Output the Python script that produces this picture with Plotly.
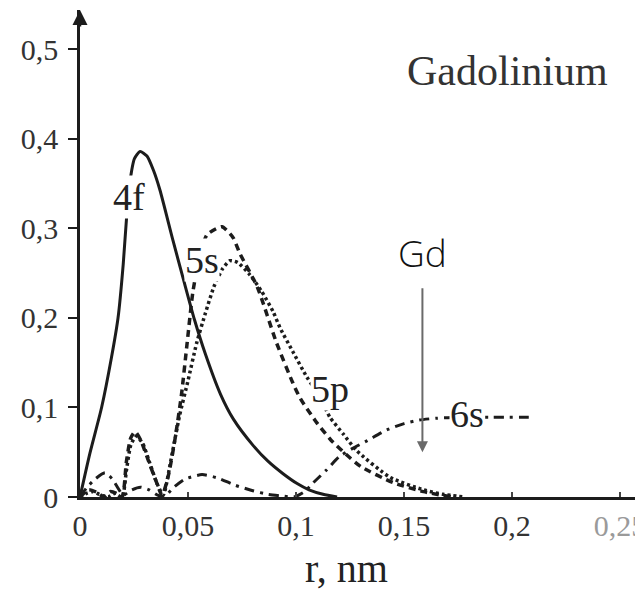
import plotly.graph_objects as go

# ---------------- data ----------------
r_4f = [0, 0.0046, 0.010, 0.0145, 0.0176, 0.0200, 0.0217, 0.0231, 0.0252, 0.0278, 0.031, 0.034,
        0.037, 0.043, 0.048, 0.053, 0.058, 0.065, 0.071, 0.080, 0.087, 0.094, 0.1005, 0.106, 0.1125, 0.119]
p_4f = [0, 0.049, 0.100, 0.155, 0.200, 0.260, 0.317, 0.352, 0.378, 0.386, 0.381, 0.365,
        0.343, 0.287, 0.242, 0.198, 0.160, 0.115, 0.087, 0.058, 0.040, 0.026, 0.015, 0.008, 0.003, 0]

r_5s = [0, 0.004, 0.008, 0.011, 0.014, 0.017, 0.0195, 0.0215, 0.0235, 0.0255, 0.028, 0.031, 0.035, 0.038,
        0.041, 0.044, 0.047, 0.0495, 0.0523, 0.0555, 0.0588, 0.0657, 0.0708, 0.074, 0.082, 0.091, 0.0986,
        0.102, 0.109, 0.116, 0.123, 0.130, 0.145, 0.159, 0.172]
p_5s = [0, 0.008, 0.005, 0.0, 0.006, 0.004, 0.0, 0.040, 0.066, 0.073, 0.064, 0.045, 0.019, 0.002,
        0.025, 0.065, 0.115, 0.170, 0.230, 0.270, 0.293, 0.302, 0.290, 0.272, 0.235, 0.172, 0.127,
        0.110, 0.085, 0.064, 0.048, 0.034, 0.016, 0.006, 0]

r_5p = [0, 0.003, 0.006, 0.009, 0.013, 0.016, 0.0195, 0.0215, 0.0235, 0.026, 0.029, 0.032, 0.0355, 0.0385,
        0.042, 0.046, 0.050, 0.054, 0.058, 0.062, 0.066, 0.0694, 0.073, 0.0787, 0.084, 0.0894, 0.0926,
        0.0986, 0.105, 0.1107, 0.1157, 0.122, 0.128, 0.1435, 0.159, 0.168, 0.178]
p_5p = [0, 0.004, 0.006, 0.003, 0.0, 0.004, 0.0, 0.030, 0.058, 0.068, 0.060, 0.040, 0.016, 0.002,
        0.040, 0.090, 0.130, 0.172, 0.205, 0.235, 0.255, 0.264, 0.262, 0.248, 0.230, 0.207, 0.189,
        0.162, 0.134, 0.113, 0.089, 0.070, 0.052, 0.022, 0.008, 0.003, 0]

r_6s = [0, 0.003, 0.007, 0.0116, 0.015, 0.0176, 0.020, 0.024, 0.028, 0.032, 0.036, 0.039, 0.043,
        0.0486, 0.0565, 0.064, 0.072, 0.080, 0.087, 0.094, 0.099, 0.104, 0.108, 0.114, 0.120, 0.126,
        0.133, 0.142, 0.150, 0.157, 0.165, 0.175, 0.190, 0.210]
p_6s = [0, 0.010, 0.020, 0.027, 0.020, 0.010, 0.002, 0.008, 0.011, 0.008, 0.002, 0.0, 0.010,
        0.020, 0.025, 0.021, 0.013, 0.007, 0.003, 0.001, 0.0, 0.006, 0.016, 0.030, 0.045, 0.054,
        0.063, 0.075, 0.082, 0.086, 0.088, 0.089, 0.089, 0.089]

x_tick_vals = [0, 0.05, 0.1, 0.15, 0.2, 0.25]
x_tick_labels = ["0", "0,05", "0,1", "0,15", "0,2", "<span style='color:#9a9a9a'>0,25</span>"]
y_tick_vals = [0, 0.1, 0.2, 0.3, 0.4, 0.5]
y_tick_labels = ["0", "0,1", "0,2", "0,3", "0,4", "0,5"]

curve_labels = ["4f", "5s", "5p", "6s"]
label_r = [0.0227, 0.0565, 0.1157, 0.179]
label_y = [0.335, 0.265, 0.121, 0.0927]

gd_r = 0.1585
gd_top, gd_tip = 0.235, 0.05

# ---------------- figure ----------------
ink = "#1c1c1c"
serif = "Liberation Serif, Times New Roman, serif"

fig = go.Figure()
fig.add_trace(go.Scatter(x=r_4f, y=p_4f, mode="lines", name="4f",
                         line=dict(color=ink, width=3, shape="spline", smoothing=0.6)))
fig.add_trace(go.Scatter(x=r_5s, y=p_5s, mode="lines", name="5s",
                         line=dict(color=ink, width=3.5, dash="7px,5px", shape="spline", smoothing=0.6)))
fig.add_trace(go.Scatter(x=r_5p, y=p_5p, mode="lines", name="5p",
                         line=dict(color=ink, width=3.5, dash="3px,3px", shape="spline", smoothing=0.6)))
fig.add_trace(go.Scatter(x=r_6s, y=p_6s, mode="lines", name="6s",
                         line=dict(color=ink, width=3, dash="10px,6px,3px,6px", shape="spline", smoothing=0.6)))

annotations = []
for t, xr, yv in zip(curve_labels, label_r, label_y):
    annotations.append(dict(x=xr, y=yv, xref="x", yref="y", text=t, showarrow=False,
                            font=dict(family=serif, size=38, color="#222"),
                            bgcolor="white", borderpad=0, xanchor="center", yanchor="middle"))

annotations.append(dict(x=0.198, y=0.476, xref="x", yref="y", text="Gadolinium", showarrow=False,
                        font=dict(family=serif, size=42, color="#333"), xanchor="center", yanchor="middle"))
annotations.append(dict(x=gd_r, y=0.273, xref="x", yref="y", text="Gd", showarrow=False,
                        font=dict(family="Open Sans, Lato, sans-serif", size=37, color="#111", weight=300),
                        xanchor="center", yanchor="middle"))
annotations.append(dict(x=gd_r, y=gd_tip, ax=gd_r, ay=gd_top, xref="x", yref="y", axref="x", ayref="y",
                        text="", showarrow=True, arrowhead=2, arrowsize=1.1, arrowwidth=2, arrowcolor="#6a6a6a"))
# y-axis arrow head
annotations.append(dict(x=0, y=0.5441, xref="x", yref="y", ax=0, ay=18, text="", showarrow=True,
                        arrowhead=2, arrowsize=1.2, arrowwidth=2.5, arrowcolor=ink))
# x-axis title
annotations.append(dict(x=(346 - 80) / 563, y=-(568 - 497) / 487, xref="paper", yref="paper",
                        text="r, nm", showarrow=False, font=dict(family=serif, size=40, color="#222"),
                        xanchor="center", yanchor="middle"))

# page body adds an 8 px offset, so the figure is 8 px smaller than the window
fig.update_layout(
    width=635, height=582,
    margin=dict(l=72, r=0, t=2, b=93),
    plot_bgcolor="white", paper_bgcolor="white",
    showlegend=False,
    annotations=annotations,
    xaxis=dict(range=[0, 0.2606], showgrid=False, zeroline=False, showline=True, automargin=False,
               linecolor=ink, linewidth=2.5, ticks="inside", ticklen=5, tickwidth=1.5, tickcolor="#444",
               tickvals=x_tick_vals, ticktext=x_tick_labels, ticklabeloverflow="allow",
               tickfont=dict(family=serif, size=30, color="#333")),
    yaxis=dict(range=[0, 0.5441], showgrid=False, zeroline=False, showline=True, automargin=False,
               linecolor=ink, linewidth=2.5, ticks="outside", ticklen=9, tickwidth=2, tickcolor=ink,
               tickvals=y_tick_vals, ticktext=y_tick_labels, ticklabelstandoff=4,
               tickfont=dict(family=serif, size=30, color="#333")),
)

fig.write_html("out.html")
